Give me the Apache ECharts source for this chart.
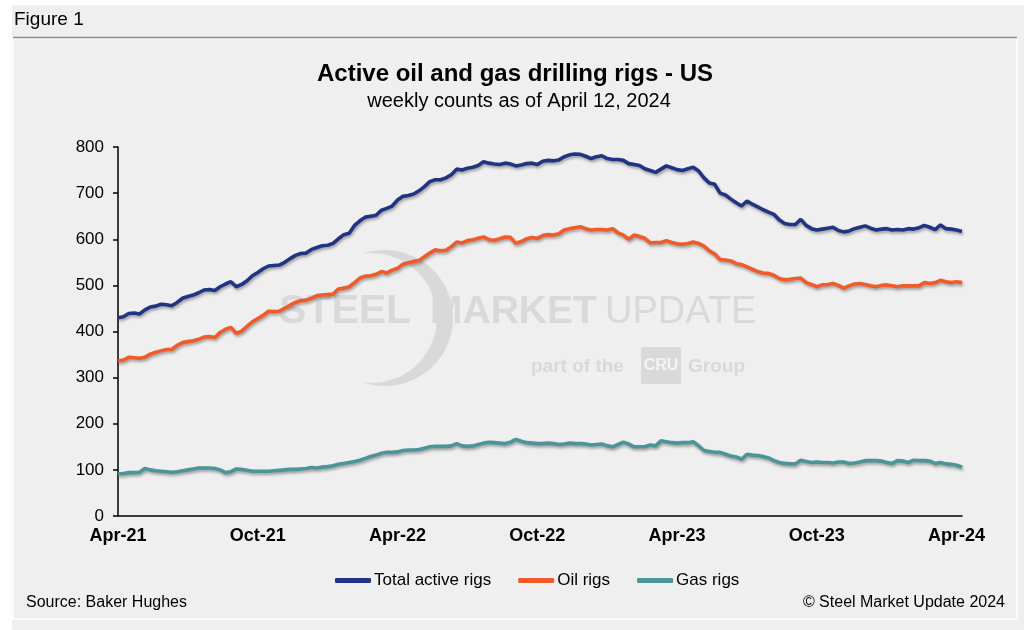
<!DOCTYPE html>
<html>
<head>
<meta charset="utf-8">
<script src="https://cdn.jsdelivr.net/npm/echarts@6/dist/echarts.min.js"></script>
<style>html,body{margin:0;padding:0;background:#fff}#c{width:1024px;height:630px}</style>
</head>
<body>
<div id="c"></div>
<script>
// ---- data ----
const startDate = '2021-04-09'; // first weekly count
const tickLabels = ['Apr-21','Oct-21','Apr-22','Oct-22','Apr-23','Oct-23','Apr-24'];
const totalRigs = [430,432,439,440,438,447,453,455,459,458,456,463,472,476,479,484,490,491,489,497,
503,508,497,502,510,521,528,536,542,543,544,550,558,565,569,570,578,582,586,587,
591,601,610,613,630,640,648,650,652,663,667,672,685,693,695,698,705,714,725,729,
729,733,740,752,750,754,756,760,768,765,763,762,765,763,759,761,764,765,762,769,
771,770,772,779,783,785,784,780,775,779,781,775,773,773,771,764,762,760,753,749,
745,752,759,755,751,749,753,756,748,733,722,719,700,696,687,679,672,683,676,670,
664,659,654,642,634,632,632,643,630,623,620,622,624,626,619,616,618,623,626,629,
624,620,622,623,620,621,620,623,622,625,630,626,621,631,623,622,620,617];
const oilRigs = [336,338,344,343,342,344,351,355,358,361,361,370,376,378,380,383,388,389,387,398,
405,409,396,401,411,421,428,435,444,443,444,450,457,463,467,468,472,478,479,480,
481,492,494,497,506,516,520,521,524,530,527,533,537,546,549,552,554,562,570,577,
575,576,584,594,592,597,599,602,605,599,598,601,605,604,591,595,601,604,602,608,
610,609,612,620,623,625,627,623,620,621,621,620,623,614,609,600,609,606,602,592,
593,593,597,593,590,589,591,594,591,585,575,568,556,555,553,547,545,540,535,530,
527,526,522,515,512,513,515,516,506,502,497,501,502,504,500,494,499,503,504,502,
499,497,500,501,499,497,499,499,499,499,506,504,506,511,508,506,508,506];
const gasRigs = [91,92,94,94,95,103,100,98,97,96,95,96,98,100,102,104,104,104,103,100,
94,96,102,101,99,97,97,97,97,98,99,100,101,101,102,103,105,104,106,107,
109,112,114,116,118,121,125,129,132,136,138,138,139,142,143,143,144,147,150,151,
151,151,152,157,152,151,152,155,158,160,159,158,157,160,166,162,159,158,157,157,
158,157,155,156,158,157,157,156,154,155,156,152,150,155,160,156,150,150,150,154,
152,163,161,159,158,159,159,161,152,142,140,138,138,134,130,128,123,134,132,131,
129,126,120,116,114,113,113,121,118,116,117,116,116,115,117,117,114,115,117,120,
120,120,119,116,114,120,119,116,121,120,120,119,114,116,113,112,110,106];

// weekly category dates
const weeks = [];
{
  const d0 = new Date(startDate + 'T00:00:00Z');
  for (let i = 0; i < totalRigs.length; i++) {
    const d = new Date(d0.getTime() + i * 7 * 86400000);
    weeks.push(d.toISOString().slice(0, 10));
  }
}

const FONT = 'Liberation Sans, Arial, Helvetica, sans-serif';
const WM = '#d9d9d9';

// watermark crescent outline (decoration only)
function crescent() {
  const pts = [];
  const o = {cx: 385, cy: 318, r: 68}, n = {cx: 372, cy: 318, r: 64.8};
  const a0 = Math.atan2(254 - 318, 362 - 385), a1 = Math.atan2(382 - 318, 362 - 385);
  for (let k = 0; k <= 40; k++) {
    const a = a0 + (a1 - a0) * k / 40;
    pts.push([o.cx + o.r * Math.cos(a), o.cy + o.r * Math.sin(a)]);
  }
  const b0 = Math.atan2(382 - 318, 362 - 372), b1 = Math.atan2(254 - 318, 362 - 372);
  for (let k = 0; k <= 40; k++) {
    const a = b0 + (b1 - b0) * k / 40;
    pts.push([n.cx + n.r * Math.cos(a), n.cy + n.r * Math.sin(a)]);
  }
  return pts;
}

const chart = echarts.init(document.getElementById('c'), null, {renderer: 'canvas'});

const lineStyle = (color) => ({
  color: color, width: 3.6,
  shadowColor: 'rgba(0,0,0,0.35)', shadowBlur: 3, shadowOffsetX: 1, shadowOffsetY: 2
});

chart.setOption({
  backgroundColor: '#efefef',
  animation: false,
  grid: {left: 118, right: 62, top: 147, bottom: 114, containLabel: false},
  xAxis: {
    type: 'category', data: weeks, boundaryGap: false,
    axisLine: {lineStyle: {color: '#000', width: 1.5}},
    axisTick: {show: false},
    splitLine: {show: false},
    axisLabel: {
      interval: (idx) => idx % 26 === 0,
      formatter: (val, idx) => tickLabels[Math.round(idx / 26)] || '',
      color: '#000', fontFamily: FONT, fontSize: 18, fontWeight: 'bold', margin: 11
    }
  },
  yAxis: {
    type: 'value', min: 0, max: 800, interval: 100,
    axisLine: {show: true, lineStyle: {color: '#000', width: 1.5}},
    axisTick: {show: true, length: 5, lineStyle: {color: '#000', width: 1.5}},
    splitLine: {show: false},
    axisLabel: {color: '#000', fontFamily: FONT, fontSize: 17, margin: 14}
  },
  legend: {
    left: 330, top: 567,
    itemWidth: 36, itemHeight: 5, itemGap: 27,
    icon: 'roundRect',
    textStyle: {color: '#000', fontFamily: FONT, fontSize: 17, padding: [0, 0, 0, -2]},
    data: ['Total active rigs', 'Oil rigs', 'Gas rigs']
  },
  series: [
    {name: 'Total active rigs', type: 'line', data: totalRigs, showSymbol: false, symbol: 'none',
     itemStyle: {color: '#203483'}, lineStyle: lineStyle('#203483'), z: 5},
    {name: 'Oil rigs', type: 'line', data: oilRigs, showSymbol: false, symbol: 'none',
     itemStyle: {color: '#f15a29'}, lineStyle: lineStyle('#f15a29'), z: 4},
    {name: 'Gas rigs', type: 'line', data: gasRigs, showSymbol: false, symbol: 'none',
     itemStyle: {color: '#4b9599'}, lineStyle: lineStyle('#4b9599'), z: 3}
  ],
  graphic: [
    {type: 'rect', z: -10, silent: true, shape: {x: 0, y: 0, width: 1024, height: 5}, style: {fill: '#ffffff'}},
    {type: 'rect', z: -10, silent: true, shape: {x: 0, y: 0, width: 12, height: 630}, style: {fill: '#ffffff'}},
    {type: 'text', z: 10, x: 14, y: 20, style: {text: 'Figure 1', font: '19px ' + FONT, fill: '#000', textVerticalAlign: 'middle'}},
    {type: 'line', z: 10, silent: true, shape: {x1: 13, y1: 37.5, x2: 1017, y2: 37.5}, style: {stroke: '#8c8c8c', lineWidth: 1.5}},
    {type: 'rect', z: -5, silent: true, shape: {x: 13, y: 38.5, width: 1004, height: 580.5}, style: {fill: 'none', stroke: '#ffffff', lineWidth: 1.5}},
    // watermark
    {type: 'polygon', z: -1, silent: true, shape: {points: crescent()}, style: {fill: WM}},
    {type: 'text', z: -1, silent: true, x: 279, y: 332, style: {text: 'STEEL', font: '900 41px ' + FONT, fill: WM, textVerticalAlign: 'bottom'}},
    {type: 'text', z: -1, silent: true, x: 430, y: 332, style: {text: 'MARKET', font: 'bold 39px ' + FONT, fill: WM, textVerticalAlign: 'bottom'}},
    {type: 'text', z: -1, silent: true, x: 605, y: 332, style: {text: 'UPDATE', font: '300 38px "DejaVu Sans ExtraLight", ' + FONT, fill: WM, textVerticalAlign: 'bottom'}},
    {type: 'text', z: -1, silent: true, x: 531, y: 376, style: {text: 'part of the', font: 'bold 19px ' + FONT, fill: WM, textVerticalAlign: 'bottom'}},
    {type: 'rect', z: -1, silent: true, shape: {x: 641, y: 347, width: 40, height: 37, r: 2}, style: {fill: WM}},
    {type: 'text', z: -1, silent: true, x: 661, y: 366, style: {text: 'CRU', font: 'bold 16px "Liberation Sans Narrow", ' + FONT, fill: '#f4f4f4', textAlign: 'center', textVerticalAlign: 'middle'}},
    {type: 'text', z: -1, silent: true, x: 688, y: 376, style: {text: 'Group', font: 'bold 19px ' + FONT, fill: WM, textVerticalAlign: 'bottom'}},
    // titles
    {type: 'text', z: 10, x: 515, y: 74, style: {text: 'Active oil and gas drilling rigs - US', font: 'bold 24px ' + FONT, fill: '#000', textAlign: 'center', textVerticalAlign: 'middle'}},
    {type: 'text', z: 10, x: 519, y: 101, style: {text: 'weekly counts as of April 12, 2024', font: '20px ' + FONT, fill: '#000', textAlign: 'center', textVerticalAlign: 'middle'}},
    // footer
    {type: 'text', z: 10, x: 26, y: 603, style: {text: 'Source: Baker Hughes', font: '16px ' + FONT, fill: '#000', textVerticalAlign: 'middle'}},
    {type: 'text', z: 10, x: 1005, y: 603, style: {text: '\u00A9 Steel Market Update 2024', font: '16px ' + FONT, fill: '#000', textAlign: 'right', textVerticalAlign: 'middle'}}
  ]
});
</script>
</body>
</html>
